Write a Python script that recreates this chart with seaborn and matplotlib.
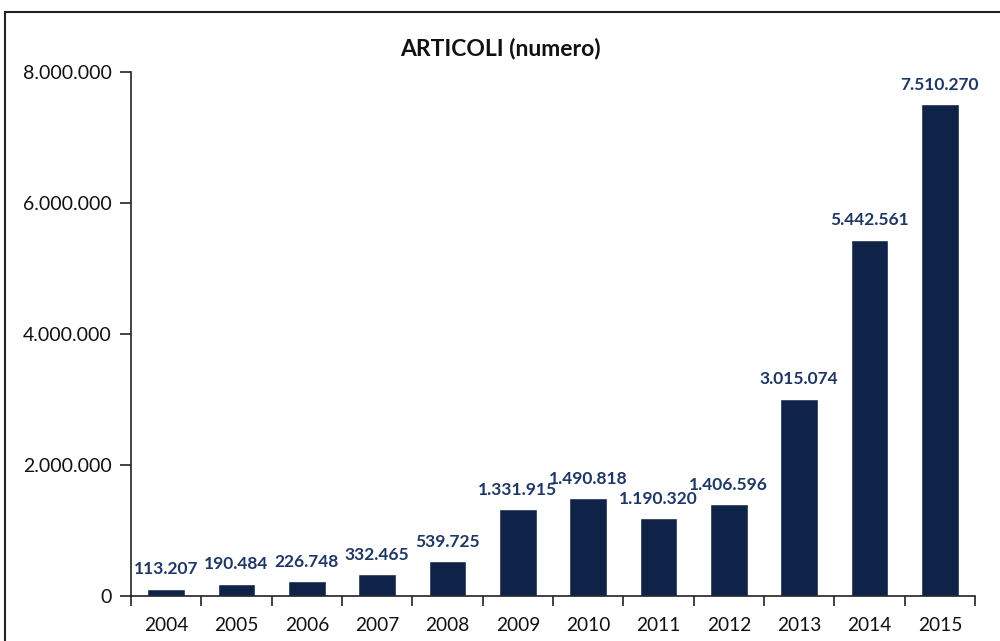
import matplotlib
matplotlib.use("Agg")
import matplotlib.pyplot as plt
import seaborn as sns
import pandas as pd
from matplotlib.ticker import FuncFormatter, FixedLocator
from matplotlib.patches import Rectangle

years = ["2004", "2005", "2006", "2007", "2008", "2009", "2010", "2011", "2012", "2013", "2014", "2015"]
values = [113207, 190484, 226748, 332465, 539725, 1331915, 1490818, 1190320, 1406596, 3015074, 5442561, 7510270]
title = "ARTICOLI (numero)"

sns.set_theme(style="white")
plt.rcParams["font.family"] = ["Lato", "DejaVu Sans"]

def fmt(v):
    return f"{int(v):,}".replace(",", ".")

df = pd.DataFrame({"anno": years, "valore": values})

fig = plt.figure(figsize=(10, 6.41), dpi=100)
ax = fig.add_axes([0.131, 0.0702, 0.844, 0.8175])
sns.barplot(data=df, x="anno", y="valore", color="#0f2349", saturation=1, width=0.54, ax=ax)

ax.set_xlim(-0.5, len(years) - 0.5)
ax.set_ylim(0, 8000000)
ax.set_yticks([0, 2000000, 4000000, 6000000, 8000000])
ax.yaxis.set_major_formatter(FuncFormatter(lambda v, p: fmt(v)))
ax.set_xlabel("")
ax.set_ylabel("")

for s in ["top", "right"]:
    ax.spines[s].set_visible(False)
for s in ["left", "bottom"]:
    ax.spines[s].set_color("#222222")
    ax.spines[s].set_linewidth(1.2)

ax.tick_params(axis="y", which="major", left=True, length=8, width=1.2, color="#222222", labelsize=14, pad=6, labelcolor="#111111")
ax.tick_params(axis="x", which="major", bottom=False, labelsize=13.8, pad=9, labelcolor="#111111")
ax.xaxis.set_minor_locator(FixedLocator([i - 0.5 for i in range(len(years) + 1)]))
ax.tick_params(axis="x", which="minor", bottom=True, length=7, width=1.2, color="#222222")

for i, v in enumerate(values):
    ax.annotate(fmt(v), (i, v), xytext=(0, 8), textcoords="offset points",
                ha="center", va="bottom", fontsize=12.5, fontweight="bold", color="#1e3766")

fig.text(0.5, 0.925, title, ha="center", va="center", fontsize=16.5, fontweight="bold", color="#111111")

fig.patches.append(Rectangle((0.005, -0.01), 1.2, 0.9915, transform=fig.transFigure,
                             fill=False, edgecolor="#222222", linewidth=1.5))

fig.savefig("out.png", dpi=100)
